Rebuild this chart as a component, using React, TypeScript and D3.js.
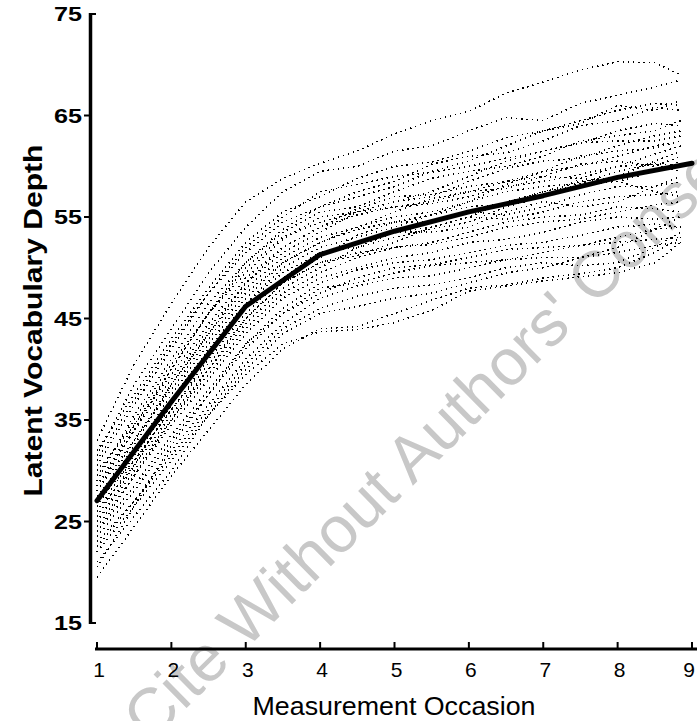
import React, { useEffect, useRef } from 'react'
import * as d3 from 'd3'

// measurement occasions (individual curves stop a little before 9)
const occasions = [1, 1.5, 2, 2.5, 3, 3.5, 4, 4.5, 5, 5.5, 6, 6.5, 7, 7.5, 8, 8.5, 8.85]
const meanOccasions = [1, 2, 3, 4, 5, 6, 7, 8, 9]
const meanDepth = [27.05, 36.8, 46.2, 51.3, 53.6, 55.5, 57.1, 58.9, 60.3]

// individual latent trajectories
const t01 = [33, 40.5, 46.5, 52, 56.5, 58.8, 60.3, 61.5, 63.2, 64.5, 65.4, 67.2, 68.3, 69.5, 70.3, 70.2, 69.0]
const t02 = [31.5, 38.5, 44, 49.5, 54, 57.5, 59.5, 60, 61.5, 62, 63.5, 64.8, 64.5, 66.2, 67, 67.8, 68.5]
const t03 = [32, 37.5, 43, 48, 52.5, 55.5, 57, 58.8, 60, 60.4, 61.5, 62.8, 63.5, 64.2, 66, 65.5, 66.5]
const t04 = [30.5, 36.5, 42, 47.5, 51.5, 54.5, 56, 57.5, 58.5, 60.2, 61, 61.3, 62.5, 64, 64.5, 65.8, 65.5]
const t05 = [29, 35.5, 41, 46.5, 50.5, 53.5, 55.5, 56, 57.5, 58.8, 59.5, 60, 61, 62.5, 63, 63.5, 64.5]
const t06 = [30, 34.5, 40, 45.5, 49.5, 52.8, 55, 55.5, 56.5, 57, 58.5, 59.8, 60.5, 60.8, 62, 63, 63.5]
const t07 = [28.5, 34.5, 39.5, 44.5, 49, 52, 54, 55.8, 57, 57.2, 58, 58.5, 59.5, 61, 61.5, 61.8, 62.5]
const t08 = [28, 33, 38.5, 43.5, 48, 51, 53, 54, 55.5, 56.8, 57.5, 57.8, 59, 60.2, 60.5, 60, 61]
const t09 = [27, 33, 38, 43, 47.5, 50.5, 52.5, 54, 55, 55.5, 56.5, 57.5, 58, 58.3, 59.5, 60.3, 60]
const t10 = [27.5, 32, 37, 42, 46.5, 50, 52, 53, 54, 55.2, 56, 56.3, 57.5, 58.5, 59, 60.5, 61.5]
const t11 = [26, 31.5, 36.5, 41.5, 46, 49, 51, 53.2, 54.5, 54.5, 55.5, 55.2, 56, 57.2, 58, 58, 58.5]
const t12 = [27, 31, 36, 41, 45.5, 49, 51.5, 52, 53, 53.8, 54.5, 56, 57, 58.8, 60, 61.2, 62]
const t13 = [25.5, 31, 36, 40.5, 45, 48.5, 50.5, 51.2, 52.5, 54, 55, 54.8, 55.5, 56.5, 57, 57.2, 57.5]
const t14 = [26, 30.5, 35.5, 40, 44.5, 48, 50, 52, 53.5, 53.5, 54, 55.5, 56.5, 56, 56.5, 58, 59]
const t15 = [25, 30, 35, 39.5, 44, 47.5, 49.5, 51, 52, 52.3, 53, 54, 54.5, 54.8, 55.5, 56.2, 56.5]
const t16 = [24.5, 29.5, 34.5, 39, 43.5, 47, 49, 50, 51, 51.5, 52.5, 52.8, 53.5, 54.5, 55, 54.8, 55]
const t17 = [24, 28.5, 33.5, 38, 42.5, 46, 48.5, 49.8, 50.5, 50.8, 51.5, 52.2, 52.5, 53.2, 54, 54.3, 54]
const t18 = [23.5, 28, 33, 37.5, 42, 45.5, 48, 48.5, 49.5, 50.2, 50.5, 50.8, 51.5, 52.2, 52.5, 52.8, 53]
const t19 = [22.5, 27, 32, 36.5, 41, 44.5, 47, 48.2, 49, 49.2, 50, 50.8, 51, 51, 51.5, 52.2, 52.5]
const t20 = [23, 27, 31.5, 36, 40.5, 44, 46, 47.2, 48, 48.3, 49, 50, 50.5, 50.2, 50.5, 52, 53.5]
const t21 = [21, 25.5, 30, 35.5, 39.5, 42.5, 43.7, 43.9, 44.6, 45.8, 47.7, 48.2, 48.7, 49.1, 49.5, 50.5, 52.5]
const t22 = [22, 26.5, 31, 35.5, 40, 43.5, 45.5, 46.2, 47, 47.5, 48.5, 49.5, 50, 51, 52, 53.8, 55]
const t23 = [19.5, 24.5, 29.5, 34, 38.5, 42, 44, 44.2, 45.5, 46.8, 48, 48.3, 49, 49.4, 50, 51.5, 53]
const t24 = [29.5, 35, 40.5, 45.5, 50, 53, 54.5, 55.5, 56, 56.3, 57, 58, 58.5, 59.2, 60, 60.2, 59.5]
const t25 = [28.5, 34, 39, 44, 48.5, 51.5, 53.5, 55.5, 56.5, 57.5, 59, 60.5, 61.5, 62.2, 63.5, 64.2, 64]
const t26 = [26.5, 32, 37.5, 42.5, 47, 50.5, 52.5, 53.8, 54.5, 55.2, 56.5, 58.2, 59.5, 60, 61, 62, 62.5]
const t27 = [25, 30.5, 36.5, 41.5, 46.5, 49.5, 51.5, 52.5, 53.5, 54, 55, 56.5, 57.5, 58.2, 58.5, 57.5, 57]
const t28 = [24, 29.5, 35, 40, 45, 48.5, 50.5, 51.5, 52, 52.5, 53.5, 54.5, 55, 55.2, 56, 55.8, 55.5]
const t29 = [31, 37, 42.5, 47.5, 52, 55, 57.5, 58.2, 59, 59.4, 60, 60.8, 61.5, 62.3, 62.5, 62.5, 63]
const t30 = [20.5, 26.5, 32.5, 37.5, 42.5, 45.5, 47.5, 49, 50, 50.3, 51, 51.8, 52, 52.2, 53, 53.8, 54]
const t31 = [28, 34, 40, 45.5, 50.5, 53.8, 56, 57, 58, 59.5, 60.5, 62, 63.5, 64.5, 65.5, 66.2, 66]
const t32 = [26.5, 32.5, 38.5, 43.5, 48.5, 52, 54, 55.2, 56, 56.5, 57.5, 58.5, 59, 58.8, 58.5, 59.5, 60.5]

const trajectories = [
  t01, t02, t03, t04, t05, t06, t07, t08, t09, t10, t11, t12, t13, t14, t15, t16,
  t17, t18, t19, t20, t21, t22, t23, t24, t25, t26, t27, t28, t29, t30, t31, t32,
]

const xTicks = [1, 2, 3, 4, 5, 6, 7, 8, 9]
const yTicks = [15, 25, 35, 45, 55, 65, 75]

const App = () => {
  const chartRef = useRef(null)

  useEffect(() => {
    const width = 697
    const height = 721

    const x = d3.scaleLinear().domain([1, 9]).range([97, 692])
    const y = d3.scaleLinear().domain([15, 75]).range([623, 14])

    const svg = d3
      .select(chartRef.current)
      .append('svg')
      .attr('width', width)
      .attr('height', height)
      .style('display', 'block')
      .style('background', '#fff')

    // watermark sits behind everything
    svg
      .append('text')
      .attr('transform', 'translate(150,744) rotate(-44.5)')
      .attr('font-family', 'Liberation Sans, Arial, sans-serif')
      .attr('font-size', 65)
      .attr('fill', '#c8c8c8')
      .text("Cite Without Authors' Consent")

    // individual curves, dotted
    const line = d3
      .line<number>()
      .x((d, i) => x(occasions[i]))
      .y((d) => y(d))

    svg
      .append('g')
      .selectAll('path')
      .data(trajectories)
      .enter()
      .append('path')
      .attr('d', (d) => line(d))
      .attr('fill', 'none')
      .attr('stroke', '#000')
      .attr('stroke-width', 1.5)
      .attr('stroke-dasharray', '1.4 3.8')
      .attr('shape-rendering', 'crispEdges')

    // mean curve
    const meanLine = d3
      .line<number>()
      .x((d, i) => x(meanOccasions[i]))
      .y((d) => y(d))

    svg
      .append('path')
      .attr('d', meanLine(meanDepth))
      .attr('fill', 'none')
      .attr('stroke', '#000')
      .attr('stroke-width', 5)
      .attr('stroke-linejoin', 'round')
      .attr('stroke-linecap', 'round')

    // y axis
    const yAxis = svg.append('g')
    yAxis
      .append('line')
      .attr('x1', 90.5)
      .attr('x2', 90.5)
      .attr('y1', y(75) - 1)
      .attr('y2', y(15) + 1)
      .attr('stroke', '#000')
      .attr('stroke-width', 3.5)
    yAxis
      .selectAll('.ytick')
      .data(yTicks)
      .enter()
      .append('line')
      .attr('class', 'ytick')
      .attr('x1', (d) => (d === 15 || d === 75 ? 90 : 84))
      .attr('x2', (d) => (d === 15 || d === 75 ? 96 : 90))
      .attr('y1', (d) => y(d))
      .attr('y2', (d) => y(d))
      .attr('stroke', '#000')
      .attr('stroke-width', 2)
    yAxis
      .selectAll('.ylab')
      .data(yTicks)
      .enter()
      .append('text')
      .attr('class', 'ylab')
      .attr('x', 82)
      .attr('y', (d) => Math.max(y(d), 12))
      .attr('dy', '0.36em')
      .attr('text-anchor', 'end')
      .attr('font-family', 'Liberation Sans, Arial, sans-serif')
      .attr('font-weight', 'bold')
      .attr('font-size', 20)
      .attr('textLength', 28)
      .attr('lengthAdjust', 'spacingAndGlyphs')
      .text((d) => d)

    svg
      .append('text')
      .attr('transform', `translate(42,${(y(75) + y(15)) / 2 + 2}) rotate(-90)`)
      .attr('text-anchor', 'middle')
      .attr('font-family', 'Liberation Sans, Arial, sans-serif')
      .attr('font-weight', 'bold')
      .attr('font-size', 26)
      .attr('textLength', 352)
      .attr('lengthAdjust', 'spacingAndGlyphs')
      .text('Latent Vocabulary Depth')

    // x axis
    const xAxis = svg.append('g')
    xAxis
      .append('line')
      .attr('x1', 95)
      .attr('x2', 697)
      .attr('y1', 649)
      .attr('y2', 649)
      .attr('stroke', '#000')
      .attr('stroke-width', 3)
    xAxis
      .selectAll('.xtick')
      .data(xTicks)
      .enter()
      .append('line')
      .attr('class', 'xtick')
      .attr('x1', (d) => x(d))
      .attr('x2', (d) => x(d))
      .attr('y1', 642)
      .attr('y2', 649)
      .attr('stroke', '#000')
      .attr('stroke-width', 2)
    xAxis
      .selectAll('.xlab')
      .data(xTicks)
      .enter()
      .append('text')
      .attr('class', 'xlab')
      .attr('x', (d) => Math.min(x(d) + 2, 689))
      .attr('y', 677)
      .attr('text-anchor', 'middle')
      .attr('font-family', 'Liberation Sans, Arial, sans-serif')
      .attr('font-size', 21)
      .text((d) => d)

    svg
      .append('text')
      .attr('x', 394)
      .attr('y', 715)
      .attr('text-anchor', 'middle')
      .attr('font-family', 'Liberation Sans, Arial, sans-serif')
      .attr('font-size', 25)
      .attr('textLength', 283)
      .attr('lengthAdjust', 'spacingAndGlyphs')
      .text('Measurement Occasion')

    return () => {
      d3.select(chartRef.current).selectAll('*').remove()
    }
  }, [])

  return <div ref={chartRef} style={{ position: 'absolute', left: 0, top: 0 }}></div>
}

export default App
